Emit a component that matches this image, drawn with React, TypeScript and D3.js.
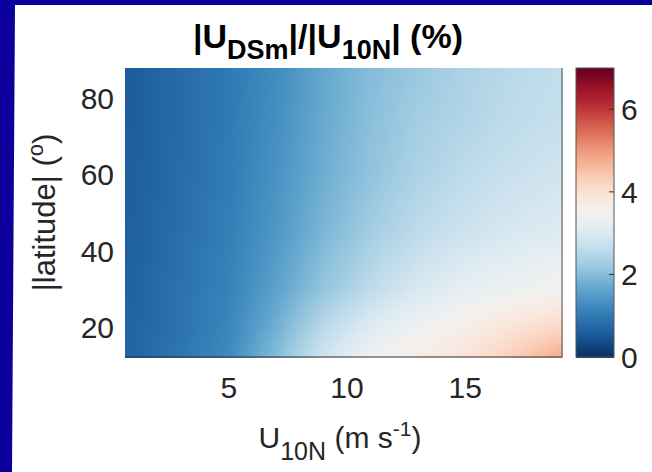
import React, { useMemo } from 'react';
import * as d3 from 'd3';

// Grid of values: ratio (%) vs wind speed (columns) and |latitude| (rows)
const windSpeeds = [1, 3, 5, 7, 9, 11, 13, 15, 17, 19];
const latitudes = [12, 20, 30, 45, 60, 75, 88];
const ratioLat12 = [0.72, 0.95, 1.25, 2.0, 2.85, 3.4, 3.7, 3.95, 4.3, 4.8];
const ratioLat20 = [0.7, 0.92, 1.18, 1.8, 2.55, 3.05, 3.4, 3.65, 3.95, 4.15];
const ratioLat30 = [0.68, 0.9, 1.13, 1.6, 2.15, 2.6, 2.95, 3.2, 3.35, 3.5];
const ratioLat45 = [0.65, 0.85, 1.08, 1.45, 1.9, 2.3, 2.6, 2.8, 2.95, 3.05];
const ratioLat60 = [0.62, 0.82, 1.03, 1.38, 1.78, 2.12, 2.4, 2.6, 2.75, 2.85];
const ratioLat75 = [0.6, 0.8, 1.0, 1.32, 1.72, 2.05, 2.3, 2.45, 2.6, 2.7];
const ratioLat88 = [0.6, 0.8, 1.0, 1.28, 1.68, 2.0, 2.2, 2.4, 2.55, 2.65];
const ratioRows = [ratioLat12, ratioLat20, ratioLat30, ratioLat45, ratioLat60, ratioLat75, ratioLat88];

const xTicks = [5, 10, 15];
const yTicks = [20, 40, 60, 80];
const cTicks = [0, 2, 4, 6];

const W = 652;
const H = 472;
const plot = { left: 125, right: 562, top: 68, bottom: 357 };
const cbar = { left: 576, right: 614, top: 68, bottom: 357 };
const FONT = "'Liberation Sans', Arial, Helvetica, sans-serif";
const TXT = '#262626';
const FS = 30;

function valueAt(u: number, lat: number): number {
  const bi = d3.bisector((d: number) => d).right;
  const i = Math.min(Math.max(bi(windSpeeds, u) - 1, 0), windSpeeds.length - 2);
  const j = Math.min(Math.max(bi(latitudes, lat) - 1, 0), latitudes.length - 2);
  const tx = Math.min(Math.max((u - windSpeeds[i]) / (windSpeeds[i + 1] - windSpeeds[i]), 0), 1);
  const ty = Math.min(Math.max((lat - latitudes[j]) / (latitudes[j + 1] - latitudes[j]), 0), 1);
  const a = ratioRows[j][i], b = ratioRows[j][i + 1];
  const c = ratioRows[j + 1][i], d = ratioRows[j + 1][i + 1];
  return (a * (1 - tx) + b * tx) * (1 - ty) + (c * (1 - tx) + d * tx) * ty;
}

export default function App() {
  const x = d3.scaleLinear().domain([0.6, 19.1]).range([plot.left, plot.right]);
  const y = d3.scaleLinear().domain([12, 88]).range([plot.bottom, plot.top]);
  const cy = d3.scaleLinear().domain([0, 7]).range([cbar.bottom, cbar.top]);
  const color = d3.scaleSequential((t: number) => d3.interpolateRdBu(1 - t)).domain([0, 7]);

  const cells = useMemo(() => {
    const out: { x: number; y: number; w: number; h: number; f: string }[] = [];
    const step = 3;
    for (let px = plot.left; px < plot.right; px += step) {
      const w = Math.min(step, plot.right - px);
      const u = x.invert(px + w / 2);
      for (let py = plot.top; py < plot.bottom; py += step) {
        const h = Math.min(step, plot.bottom - py);
        const lat = y.invert(py + h / 2);
        out.push({ x: px, y: py, w: w + 0.5, h: h + 0.5, f: color(valueAt(u, lat)) });
      }
    }
    return out;
  }, []);

  const cbarSteps = d3.range(0, 7, 0.05);

  return (
    <svg width={W} height={H} style={{ position: 'absolute', left: 0, top: 0 }} fontFamily={FONT}>
      <rect x={0} y={0} width={W} height={H} fill="#ffffff" />
      <polygon points={`0,0 ${W},0 ${W},5 15,5 12,${H} 0,${H}`} fill="#0b009c" />

      {/* heatmap */}
      <g shapeRendering="crispEdges">
        {cells.map((c, k) => (
          <rect key={k} x={c.x} y={c.y} width={c.w} height={c.h} fill={c.f} />
        ))}
      </g>
      <line x1={plot.left} x2={plot.right} y1={plot.bottom} y2={plot.bottom} stroke="#333" strokeWidth={1.2} />
      <line x1={plot.right} x2={plot.right} y1={plot.top} y2={plot.bottom} stroke="#555" strokeWidth={1} />

      {/* x ticks */}
      {xTicks.map((t) => (
        <text key={t} x={x(t)} y={398} textAnchor="middle" fontSize={FS} fill={TXT}>
          {t}
        </text>
      ))}
      {/* y ticks */}
      {yTicks.map((t) => (
        <text key={t} x={114} y={y(t) + 11} textAnchor="end" fontSize={FS} fill={TXT}>
          {t}
        </text>
      ))}

      {/* x label */}
      <text x={340} y={448} textAnchor="middle" fontSize={FS} fill={TXT}>
        U<tspan fontSize={25} dy={12}>10N</tspan>
        <tspan dy={-12}> (m s</tspan>
        <tspan fontSize={21} dy={-12}>-1</tspan>
        <tspan dy={12}>)</tspan>
      </text>

      {/* y label */}
      <text transform={`translate(55,${(plot.top + plot.bottom) / 2}) rotate(-90)`} textAnchor="middle" fontSize={31} fill={TXT}>
        |latitude| (<tspan fontSize={22} dy={-12}>o</tspan>
        <tspan dy={12}>)</tspan>
      </text>

      {/* title */}
      <text x={328} y={48} textAnchor="middle" fontSize={34} fontWeight="bold" fill="#000">
        |U<tspan fontSize={27} dy={11}>DSm</tspan>
        <tspan dy={-11}>|/|U</tspan>
        <tspan fontSize={27} dy={11}>10N</tspan>
        <tspan dy={-11}>| (%)</tspan>
      </text>

      {/* colorbar */}
      <g shapeRendering="crispEdges">
        {cbarSteps.map((v) => (
          <rect key={v} x={cbar.left} y={cy(v + 0.05)} width={cbar.right - cbar.left} height={cy(v) - cy(v + 0.05) + 0.6} fill={color(v + 0.025)} />
        ))}
      </g>
      <rect x={cbar.left} y={cbar.top} width={cbar.right - cbar.left} height={cbar.bottom - cbar.top} fill="none" stroke="#555" strokeWidth={1} />
      {cTicks.map((t) => (
        <g key={t}>
          {t > 0 && <line x1={cbar.right - 5} x2={cbar.right} y1={cy(t)} y2={cy(t)} stroke="#333" strokeWidth={1} />}
          <text x={621} y={cy(t) + 11} fontSize={FS} fill={TXT}>
            {t}
          </text>
        </g>
      ))}
    </svg>
  );
}
